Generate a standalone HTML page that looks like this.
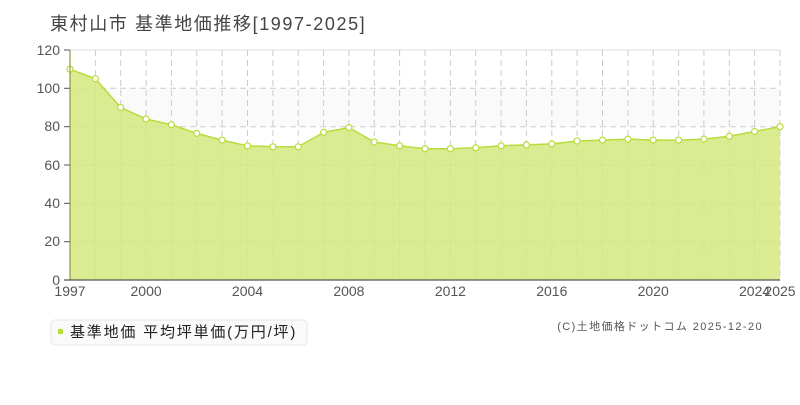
<!DOCTYPE html>
<html><head><meta charset="utf-8"><style>
body{margin:0;background:#fff;width:800px;height:400px;overflow:hidden;font-family:"Liberation Sans","Noto Sans CJK JP",sans-serif}
</style></head><body>
<svg width="800" height="400" xmlns="http://www.w3.org/2000/svg" font-family="Liberation Sans, Noto Sans CJK JP, sans-serif">
<text x="50" y="30" font-size="18" fill="#444" letter-spacing="1.6">東村山市 基準地価推移[1997-2025]</text>
<rect x="70" y="88.3" width="710" height="38.3" fill="#fafafa"/>
<g stroke="#ccc" stroke-dasharray="6,4" stroke-width="1">
<line x1="70" y1="88.3" x2="780" y2="88.3"/><line x1="70" y1="126.7" x2="780" y2="126.7"/><line x1="70" y1="165" x2="780" y2="165"/><line x1="70" y1="203.3" x2="780" y2="203.3"/><line x1="70" y1="241.7" x2="780" y2="241.7"/>
</g>
<line x1="70" y1="50" x2="780" y2="50" stroke="#ddd"/>
<g stroke="#ccc" stroke-dasharray="6,4">
<line x1="95.4" y1="50" x2="95.4" y2="280"/><line x1="120.7" y1="50" x2="120.7" y2="280"/><line x1="146.1" y1="50" x2="146.1" y2="280"/><line x1="171.4" y1="50" x2="171.4" y2="280"/><line x1="196.8" y1="50" x2="196.8" y2="280"/><line x1="222.1" y1="50" x2="222.1" y2="280"/><line x1="247.5" y1="50" x2="247.5" y2="280"/><line x1="272.9" y1="50" x2="272.9" y2="280"/><line x1="298.2" y1="50" x2="298.2" y2="280"/><line x1="323.6" y1="50" x2="323.6" y2="280"/><line x1="348.9" y1="50" x2="348.9" y2="280"/><line x1="374.3" y1="50" x2="374.3" y2="280"/><line x1="399.6" y1="50" x2="399.6" y2="280"/><line x1="425" y1="50" x2="425" y2="280"/><line x1="450.4" y1="50" x2="450.4" y2="280"/><line x1="475.7" y1="50" x2="475.7" y2="280"/><line x1="501.1" y1="50" x2="501.1" y2="280"/><line x1="526.4" y1="50" x2="526.4" y2="280"/><line x1="551.8" y1="50" x2="551.8" y2="280"/><line x1="577.1" y1="50" x2="577.1" y2="280"/><line x1="602.5" y1="50" x2="602.5" y2="280"/><line x1="627.9" y1="50" x2="627.9" y2="280"/><line x1="653.2" y1="50" x2="653.2" y2="280"/><line x1="678.6" y1="50" x2="678.6" y2="280"/><line x1="703.9" y1="50" x2="703.9" y2="280"/><line x1="729.3" y1="50" x2="729.3" y2="280"/><line x1="754.6" y1="50" x2="754.6" y2="280"/><line x1="780" y1="50" x2="780" y2="280"/>
</g>
<polygon fill="#d4e77f" fill-opacity="0.85" points="70,280 70,69.2 95.4,78.75 120.7,107.5 146.1,119 171.4,124.75 196.8,133.4 222.1,140.1 247.5,145.8 272.9,146.8 298.2,146.8 323.6,132.4 348.9,127.6 374.3,142 399.6,145.8 425,148.7 450.4,148.7 475.7,147.75 501.1,145.8 526.4,144.9 551.8,143.9 577.1,141 602.5,140.1 627.9,139.1 653.2,140.1 678.6,140.1 703.9,139.1 729.3,136.25 754.6,131.5 780,126.7 780,280"/>
<polyline fill="none" stroke="#b9dc3c" stroke-width="1.5" points="70,69.2 95.4,78.75 120.7,107.5 146.1,119 171.4,124.75 196.8,133.4 222.1,140.1 247.5,145.8 272.9,146.8 298.2,146.8 323.6,132.4 348.9,127.6 374.3,142 399.6,145.8 425,148.7 450.4,148.7 475.7,147.75 501.1,145.8 526.4,144.9 551.8,143.9 577.1,141 602.5,140.1 627.9,139.1 653.2,140.1 678.6,140.1 703.9,139.1 729.3,136.25 754.6,131.5 780,126.7"/>
<g fill="#fff" stroke="#b9dc3c" stroke-width="1.2">
<circle cx="70" cy="69.2" r="3"/><circle cx="95.4" cy="78.75" r="3"/><circle cx="120.7" cy="107.5" r="3"/><circle cx="146.1" cy="119" r="3"/><circle cx="171.4" cy="124.75" r="3"/><circle cx="196.8" cy="133.4" r="3"/><circle cx="222.1" cy="140.1" r="3"/><circle cx="247.5" cy="145.8" r="3"/><circle cx="272.9" cy="146.8" r="3"/><circle cx="298.2" cy="146.8" r="3"/><circle cx="323.6" cy="132.4" r="3"/><circle cx="348.9" cy="127.6" r="3"/><circle cx="374.3" cy="142" r="3"/><circle cx="399.6" cy="145.8" r="3"/><circle cx="425" cy="148.7" r="3"/><circle cx="450.4" cy="148.7" r="3"/><circle cx="475.7" cy="147.75" r="3"/><circle cx="501.1" cy="145.8" r="3"/><circle cx="526.4" cy="144.9" r="3"/><circle cx="551.8" cy="143.9" r="3"/><circle cx="577.1" cy="141" r="3"/><circle cx="602.5" cy="140.1" r="3"/><circle cx="627.9" cy="139.1" r="3"/><circle cx="653.2" cy="140.1" r="3"/><circle cx="678.6" cy="140.1" r="3"/><circle cx="703.9" cy="139.1" r="3"/><circle cx="729.3" cy="136.25" r="3"/><circle cx="754.6" cy="131.5" r="3"/><circle cx="780" cy="126.7" r="3"/>
</g>
<line x1="70" y1="50" x2="70" y2="280" stroke="#8a9a40" stroke-width="1.2"/>
<line x1="64" y1="280" x2="780" y2="280" stroke="#555" stroke-width="1.2"/>
<g stroke="#555"><line x1="64" y1="50" x2="70" y2="50"/><line x1="64" y1="88.3" x2="70" y2="88.3"/><line x1="64" y1="126.7" x2="70" y2="126.7"/><line x1="64" y1="165" x2="70" y2="165"/><line x1="64" y1="203.3" x2="70" y2="203.3"/><line x1="64" y1="241.7" x2="70" y2="241.7"/></g>
<g font-size="14" fill="#555" text-anchor="end">
<text x="60" y="55">120</text><text x="60" y="93">100</text><text x="60" y="131">80</text><text x="60" y="170">60</text><text x="60" y="208">40</text><text x="60" y="246">20</text><text x="60" y="285">0</text>
</g>
<g font-size="14" fill="#555" text-anchor="middle">
<text x="70" y="296">1997</text><text x="146.1" y="296">2000</text><text x="247.5" y="296">2004</text><text x="348.9" y="296">2008</text><text x="450.4" y="296">2012</text><text x="551.8" y="296">2016</text><text x="653.2" y="296">2020</text><text x="754.6" y="296">2024</text><text x="780" y="296">2025</text>
</g>
<rect x="51" y="320" width="256" height="25" rx="4" fill="#fafafa" stroke="#e6e6e6"/>
<rect x="58" y="329" width="5" height="5" fill="#b9dc3c"/>
<text x="70" y="337" font-size="15" fill="#222" letter-spacing="1.8">基準地価 平均坪単価(万円/坪)</text>
<text x="763" y="330" font-size="11" fill="#555" text-anchor="end" letter-spacing="1.4">(C)土地価格ドットコム 2025-12-20</text>
</svg>
</body></html>
